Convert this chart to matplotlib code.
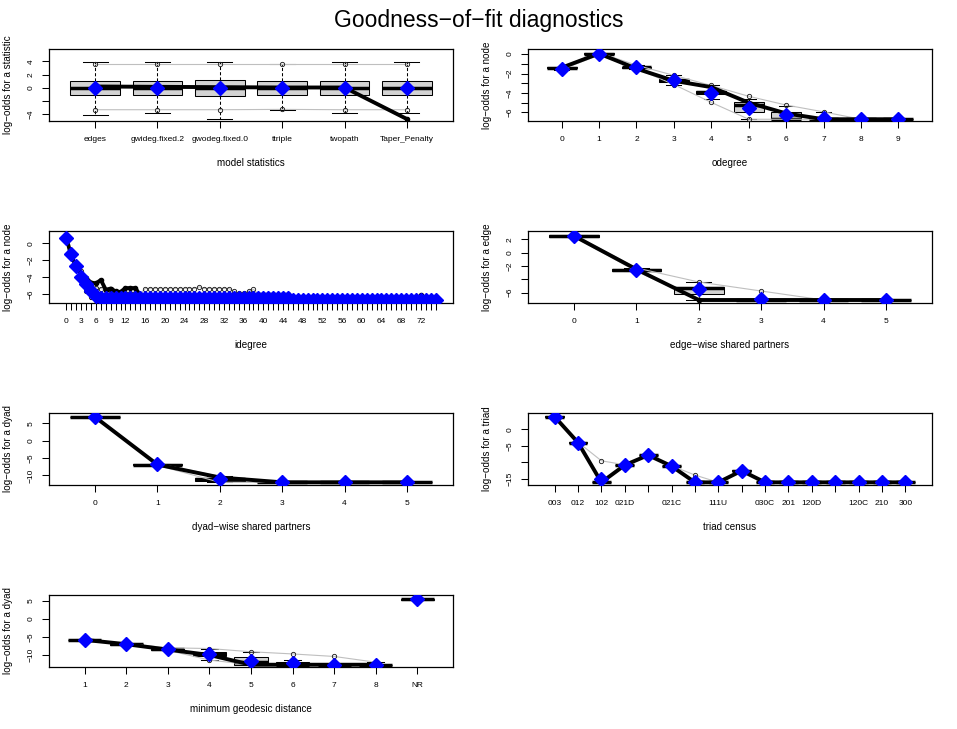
import matplotlib
matplotlib.use("Agg")
import matplotlib.pyplot as plt

plt.rcParams['font.family'] = ['Liberation Sans', 'DejaVu Sans']

W, H = 957, 729
MINUS = "\u2212"

# ---------------- data ----------------
# Panel 1: model statistics
stat_labels = ["edges", "gwideg.fixed.2", "gwodeg.fixed.0", "ttriple", "twopath", "Taper_Penalty"]
stat_obs = [0.2, 0.15, 0.1, 0.05, 0.05, -4.7]
stat_mean = [0.0, 0.0, 0.0, 0.0, 0.0, 0.0]
stat_q1 = [-1.05, -1.05, -1.25, -1.05, -1.05, -1.05]
stat_med = [0.0, 0.0, 0.0, 0.0, 0.0, 0.0]
stat_q3 = [1.1, 1.1, 1.15, 1.1, 1.0, 1.1]
stat_wlo = [-4.15, -3.85, -4.65, -3.4, -3.85, -3.85]
stat_whi = [3.95, 3.95, 3.95, 3.65, 3.95, 3.95]
stat_lo = [-3.3, -3.3, -3.3, -3.25, -3.3, -3.3]
stat_hi = [3.65, 3.65, 3.65, 3.65, 3.65, 3.65]

# Panel 2: odegree
odeg_labels = ["0", "1", "2", "3", "4", "5", "6", "7", "8", "9"]
odeg_obs = [-1.4, 0.05, -1.5, -2.75, -3.4, -5.0, -6.1, -6.7, -6.7, -6.7]
odeg_mean = [-1.49, 0.05, -1.32, -2.64, -4.0, -5.55, -6.3, -6.62, -6.68, -6.68]
odeg_q1 = [-1.45, -0.02, -1.4, -2.88, -4.1, -6.0, -6.7, -6.7, -6.7, -6.7]
odeg_med = [-1.4, 0.05, -1.35, -2.7, -3.95, -5.2, -6.7, -6.7, -6.7, -6.7]
odeg_q3 = [-1.35, 0.1, -1.28, -2.53, -3.75, -4.97, -6.0, -6.55, -6.7, -6.7]
odeg_wlo = [-1.6, -0.1, -1.5, -3.13, -4.6, -6.7, -6.7, -6.7, -6.7, -6.7]
odeg_whi = [-1.3, 0.15, -1.15, -2.19, -3.23, -4.6, -5.3, -6.0, -6.7, -6.7]
odeg_lo = [-1.6, -0.1, -1.5, -3.13, -4.97, -6.7, -6.7, -6.7, -6.7, -6.7]
odeg_hi = [-1.3, 0.15, -1.15, -2.19, -3.23, -4.34, -5.24, -5.94, -6.7, -6.7]

# Panel 3: idegree (degrees 0..75)
ideg_labels = [str(d) for d in range(76)]
ideg_shown = ["0", "3", "6", "9", "12", "16", "20", "24", "28", "32", "36", "40",
              "44", "48", "52", "56", "60", "64", "68", "72"]
ideg_obs = [0.65, -1.55, -2.7, -3.6, -4.1, -4.6, -4.7, -4.3, -5.45, -5.3,
            -5.65, -5.7, -5.25, -5.25, -5.25, -6.1, -6.7, -6.7, -6.7, -6.7,
            -6.7, -6.7, -6.7, -6.7, -6.7, -6.7, -6.7, -6.7, -6.7, -6.7,
            -6.7, -6.7, -6.7, -6.7, -6.7, -6.7, -6.7, -6.7, -6.7, -6.7,
            -6.7, -6.7, -6.7, -6.7, -6.7, -6.7, -6.7, -6.7, -6.7, -6.7,
            -6.7, -6.7, -6.7, -6.7, -6.7, -6.7, -6.7, -6.7, -6.7, -6.7,
            -6.7, -6.7, -6.7, -6.7, -6.7, -6.7, -6.7, -6.7, -6.7, -6.7,
            -6.7, -6.7, -6.1, -6.7, -6.7, -6.7]
ideg_mean = [0.65, -1.3, -2.7, -3.9, -4.8, -5.6, -6.2, -6.4, -6.4, -6.4,
             -6.4, -6.4, -6.4, -6.4, -6.4, -6.4, -6.4, -6.4, -6.4, -6.4,
             -6.4, -6.4, -6.4, -6.4, -6.4, -6.4, -6.4, -6.4, -6.4, -6.4,
             -6.4, -6.4, -6.4, -6.4, -6.4, -6.4, -6.4, -6.4, -6.4, -6.4,
             -6.4, -6.4, -6.4, -6.4, -6.4, -6.4, -6.65, -6.65, -6.65, -6.65,
             -6.65, -6.65, -6.65, -6.65, -6.65, -6.65, -6.65, -6.65, -6.65, -6.65,
             -6.65, -6.65, -6.65, -6.65, -6.65, -6.65, -6.65, -6.65, -6.65, -6.65,
             -6.65, -6.65, -6.65, -6.65, -6.65, -6.65]
ideg_hi = [0.8, -1.1, -2.4, -3.3, -4.3, -4.8, -5.2, -5.3, -5.5, -5.6,
           -5.7, -5.7, -5.8, -5.85, -5.85, -5.9, -5.3, -5.3, -5.3, -5.3,
           -5.3, -5.3, -5.3, -5.3, -5.3, -5.3, -5.3, -5.1, -5.3, -5.3,
           -5.3, -5.3, -5.3, -5.3, -5.6, -5.85, -5.85, -5.6, -5.4, -5.95,
           -5.95, -5.95, -5.95, -6.7, -5.95, -5.95, -6.7, -6.7, -6.7, -6.7,
           -6.7, -6.7, -6.7, -6.7, -6.7, -6.7, -6.7, -6.7, -6.7, -6.7,
           -6.7, -6.7, -6.7, -6.7, -6.7, -6.7, -6.7, -6.7, -6.7, -6.7,
           -6.7, -6.7, -6.7, -6.7, -6.7, -6.7]
ideg_lo = [0.5, -1.5, -3.0, -4.4, -5.6, -6.3, -6.7, -6.7, -6.7, -6.7,
           -6.7, -6.7, -6.7, -6.7, -6.7, -6.7, -6.7, -6.7, -6.7, -6.7,
           -6.7, -6.7, -6.7, -6.7, -6.7, -6.7, -6.7, -6.7, -6.7, -6.7,
           -6.7, -6.7, -6.7, -6.7, -6.7, -6.7, -6.7, -6.7, -6.7, -6.7,
           -6.7, -6.7, -6.7, -6.7, -6.7, -6.7, -6.7, -6.7, -6.7, -6.7,
           -6.7, -6.7, -6.7, -6.7, -6.7, -6.7, -6.7, -6.7, -6.7, -6.7,
           -6.7, -6.7, -6.7, -6.7, -6.7, -6.7, -6.7, -6.7, -6.7, -6.7,
           -6.7, -6.7, -6.7, -6.7, -6.7, -6.7]
ideg_q1 = [0.55, -1.4, -2.8, -4.0, -4.95, -5.9, -6.7] + [-6.7] * 69
ideg_med = [0.65, -1.3, -2.7, -3.9, -4.8, -5.6, -6.7] + [-6.7] * 69
ideg_q3 = [0.7, -1.2, -2.6, -3.75, -4.6, -5.3, -6.0] + [-6.7] * 69
ideg_wlo = [0.5, -1.5, -3.0, -4.3, -5.5, -6.5, -6.7] + [-6.7] * 69
ideg_whi = [0.8, -1.1, -2.4, -3.4, -4.3, -4.8, -5.4] + [-6.7] * 69

# Panel 4: edge-wise shared partners
esp_labels = ["0", "1", "2", "3", "4", "5"]
esp_obs = [2.5, -2.5, -7.1, -7.1, -7.1, -7.1]
esp_mean = [2.5, -2.6, -5.5, -6.95, -7.1, -7.1]
esp_q1 = [2.35, -2.75, -6.2, -7.1, -7.1, -7.1]
esp_med = [2.5, -2.55, -5.25, -7.1, -7.1, -7.1]
esp_q3 = [2.6, -2.45, -5.1, -7.1, -7.1, -7.1]
esp_wlo = [2.3, -2.8, -7.1, -7.1, -7.1, -7.1]
esp_whi = [2.7, -2.3, -4.4, -7.1, -7.1, -7.1]
esp_lo = [2.35, -2.8, -7.1, -7.1, -7.1, -7.1]
esp_hi = [2.65, -2.3, -4.4, -5.75, -7.1, -7.1]

# Panel 5: dyad-wise shared partners
dsp_labels = ["0", "1", "2", "3", "4", "5"]
dsp_obs = [6.8, -6.9, -10.6, -12.0, -12.0, -12.0]
dsp_mean = [6.8, -6.8, -11.0, -12.0, -12.0, -12.0]
dsp_q1 = [6.7, -7.0, -11.5, -12.0, -12.0, -12.0]
dsp_med = [6.8, -6.9, -11.0, -12.0, -12.0, -12.0]
dsp_q3 = [6.9, -6.8, -10.8, -12.0, -12.0, -12.0]
dsp_wlo = [6.6, -7.1, -12.0, -12.0, -12.0, -12.0]
dsp_whi = [7.0, -6.6, -10.3, -12.0, -12.0, -12.0]
dsp_lo = [6.6, -7.1, -12.0, -12.0, -12.0, -12.0]
dsp_hi = [7.0, -6.6, -10.3, -12.0, -12.0, -12.0]

# Panel 6: triad census
triad_labels = ["003", "012", "102", "021D", "021U", "021C", "111D", "111U",
                "030T", "030C", "201", "120D", "120U", "120C", "210", "300"]
triad_shown = ["003", "012", "102", "021D", "021C", "111U", "030C", "201",
               "120D", "120C", "210", "300"]
triad_obs = [3.8, -4.0, -16.0, -10.8, -7.8, -11.1, -16.0, -16.0,
             -12.5, -16.0, -16.0, -16.0, -16.0, -16.0, -16.0, -16.0]
triad_mean = [3.8, -4.0, -15.0, -10.8, -7.8, -11.1, -16.0, -16.0,
              -12.5, -16.0, -16.0, -16.0, -16.0, -16.0, -16.0, -16.0]
triad_q1 = [3.7, -4.1, -16.0, -10.9, -7.9, -11.2, -16.0, -16.0,
            -12.6, -16.0, -16.0, -16.0, -16.0, -16.0, -16.0, -16.0]
triad_med = [3.8, -4.0, -16.0, -10.8, -7.8, -11.1, -16.0, -16.0,
             -12.5, -16.0, -16.0, -16.0, -16.0, -16.0, -16.0, -16.0]
triad_q3 = [3.9, -3.9, -16.0, -10.7, -7.7, -11.0, -16.0, -16.0,
            -12.4, -16.0, -16.0, -16.0, -16.0, -16.0, -16.0, -16.0]
triad_lo = [3.7, -4.1, -16.0, -10.9, -7.9, -11.2, -16.0, -16.0,
            -12.6, -16.0, -16.0, -16.0, -16.0, -16.0, -16.0, -16.0]
triad_hi = [3.9, -3.9, -9.5, -10.7, -7.7, -11.0, -13.8, -16.0,
            -12.4, -16.0, -16.0, -16.0, -15.8, -16.0, -16.0, -16.0]

# Panel 7: minimum geodesic distance
dist_labels = ["1", "2", "3", "4", "5", "6", "7", "8", "NR"]
dist_obs = [-5.8, -7.0, -8.5, -10.0, -12.7, -12.7, -12.7, -12.7, 5.5]
dist_mean = [-5.83, -6.94, -8.33, -9.72, -11.6, -12.3, -12.7, -12.7, 5.56]
dist_q1 = [-5.9, -7.1, -8.6, -10.37, -12.7, -12.7, -12.7, -12.7, 5.4]
dist_med = [-5.8, -7.0, -8.45, -9.8, -12.0, -12.7, -12.7, -12.7, 5.5]
dist_q3 = [-5.7, -6.9, -8.3, -9.07, -10.65, -12.0, -12.7, -12.7, 5.6]
dist_wlo = [-6.0, -7.2, -8.7, -11.4, -12.7, -12.7, -12.7, -12.7, 5.35]
dist_whi = [-5.6, -6.8, -8.0, -8.2, -9.1, -11.4, -12.7, -12.0, 5.65]
dist_lo = [-6.0, -7.2, -8.7, -11.4, -12.7, -12.7, -12.7, -12.7, 5.4]
dist_hi = [-5.6, -6.8, -8.0, -8.2, -9.1, -9.7, -10.4, -12.0, 5.6]

# ---------------- drawing ----------------
fig = plt.figure(figsize=(W / 100, H / 100), dpi=100)
fig.text(0.5, 1 - 21 / H, "Goodness" + MINUS + "of" + MINUS + "fit diagnostics",
         ha="center", va="center", fontsize=16.5)

AX_W, AX_H = 404, 72
TICK_FS = 6.0
LAB_FS = 7.1


def fmt(v):
    s = ("%g" % v)
    return s.replace("-", MINUS)


def panel(left, top, labels, shown, q1, med, q3, wlo, whi, lo, hi, obs, mean,
          ylim, yticks, ylabeled, xlabel, ylabel, nline=None):
    ax = fig.add_axes([left / W, 1 - (top + AX_H) / H, AX_W / W, AX_H / H])
    n = len(labels)
    pos = list(range(1, n + 1))
    stats = []
    for i in range(n):
        stats.append(dict(med=med[i], q1=q1[i], q3=q3[i], whislo=wlo[i],
                          whishi=whi[i], fliers=[]))
    ax.bxp(stats, positions=pos, widths=0.8, capwidths=0.4, patch_artist=True,
           showfliers=False, manage_ticks=False,
           boxprops=dict(facecolor="#D3D3D3", edgecolor="black", linewidth=0.75),
           medianprops=dict(color="black", linewidth=2.5, solid_capstyle="butt"),
           whiskerprops=dict(color="black", linewidth=0.75, linestyle=(0, (3, 2))),
           capprops=dict(color="black", linewidth=0.75))
    m = nline if nline is not None else n
    ax.plot(pos[:m], lo[:m], color="#BFBFBF", lw=0.8, zorder=3)
    ax.plot(pos[:m], hi[:m], color="#BFBFBF", lw=0.8, zorder=3)
    ax.plot(pos, lo, ls="none", marker="o", ms=3.1, mfc="none", mec="#222222",
            mew=0.65, zorder=3.5)
    ax.plot(pos, hi, ls="none", marker="o", ms=3.1, mfc="none", mec="#222222",
            mew=0.65, zorder=3.5)
    ax.plot(pos[:m], obs[:m], color="black", lw=2.8, zorder=4,
            solid_joinstyle="round")
    ax.plot(pos, obs, ls="none", marker="o", ms=3, color="black", zorder=4)
    ax.plot(pos, mean, ls="none", marker="D", ms=6.8, color="#0000FF",
            mec="#0000FF", zorder=5)
    ax.set_xlim(0.5 - 0.04 * n, n + 0.5 + 0.04 * n)
    ax.set_ylim(*ylim)
    ax.set_xticks(pos)
    ax.set_xticklabels([lab if lab in shown else "" for lab in labels], fontsize=TICK_FS)
    ax.set_yticks(yticks)
    ax.set_yticklabels([fmt(t) if t in ylabeled else "" for t in yticks],
                       rotation=90, va="center", fontsize=TICK_FS)
    ax.tick_params(direction="out", length=5, width=0.75, pad=5.5)
    for sp in ax.spines.values():
        sp.set_linewidth(0.9)
    ax.text(0.5, -42 / AX_H, xlabel, transform=ax.transAxes, ha="center",
            va="center", fontsize=LAB_FS)
    ax.text(-41 / AX_W, 0.5, ylabel, transform=ax.transAxes, ha="center",
            va="center", rotation=90, fontsize=LAB_FS)
    return ax


L1, L2 = 49, 528
T1, T2, T3, T4 = 49, 231, 413, 595
lo_ = "log" + MINUS + "odds for a "

panel(L1, T1, stat_labels, stat_labels, stat_q1, stat_med, stat_q3, stat_wlo,
      stat_whi, stat_lo, stat_hi, stat_obs, stat_mean, (-5.0, 5.85),
      [-4, -2, 0, 2, 4], [-4, 0, 2, 4], "model statistics", lo_ + "statistic")

panel(L2, T1, odeg_labels, odeg_labels, odeg_q1, odeg_med, odeg_q3, odeg_wlo,
      odeg_whi, odeg_lo, odeg_hi, odeg_obs, odeg_mean, (-6.88, 0.52),
      [-6, -5, -4, -3, -2, -1, 0], [-6, -4, -2, 0], "odegree", lo_ + "node")

panel(L1, T2, ideg_labels, ideg_shown, ideg_q1, ideg_med, ideg_q3, ideg_wlo,
      ideg_whi, ideg_lo, ideg_hi, ideg_obs, ideg_mean, (-7.0, 1.45),
      [-6, -4, -2, 0], [-6, -4, -2, 0], "idegree", lo_ + "node")

panel(L2, T2, esp_labels, esp_labels, esp_q1, esp_med, esp_q3, esp_wlo,
      esp_whi, esp_lo, esp_hi, esp_obs, esp_mean, (-7.55, 3.25),
      [-6, -4, -2, 0, 2], [-6, -2, 0, 2], "edge" + MINUS + "wise shared partners",
      lo_ + "edge")

panel(L1, T3, dsp_labels, dsp_labels, dsp_q1, dsp_med, dsp_q3, dsp_wlo,
      dsp_whi, dsp_lo, dsp_hi, dsp_obs, dsp_mean, (-12.77, 7.98),
      [-10, -5, 0, 5], [-10, -5, 0, 5], "dyad" + MINUS + "wise shared partners",
      lo_ + "dyad")

panel(L2, T3, triad_labels, triad_shown, triad_q1, triad_med, triad_q3, triad_q1,
      triad_q3, triad_lo, triad_hi, triad_obs, triad_mean, (-16.8, 4.92),
      [-15, -10, -5, 0], [-15, -5, 0], "triad census", lo_ + "triad")

panel(L1, T4, dist_labels, dist_labels, dist_q1, dist_med, dist_q3, dist_wlo,
      dist_whi, dist_lo, dist_hi, dist_obs, dist_mean, (-13.33, 6.67),
      [-10, -5, 0, 5], [-10, -5, 0, 5], "minimum geodesic distance",
      lo_ + "dyad", nline=8)

fig.savefig("out.png", dpi=100)
